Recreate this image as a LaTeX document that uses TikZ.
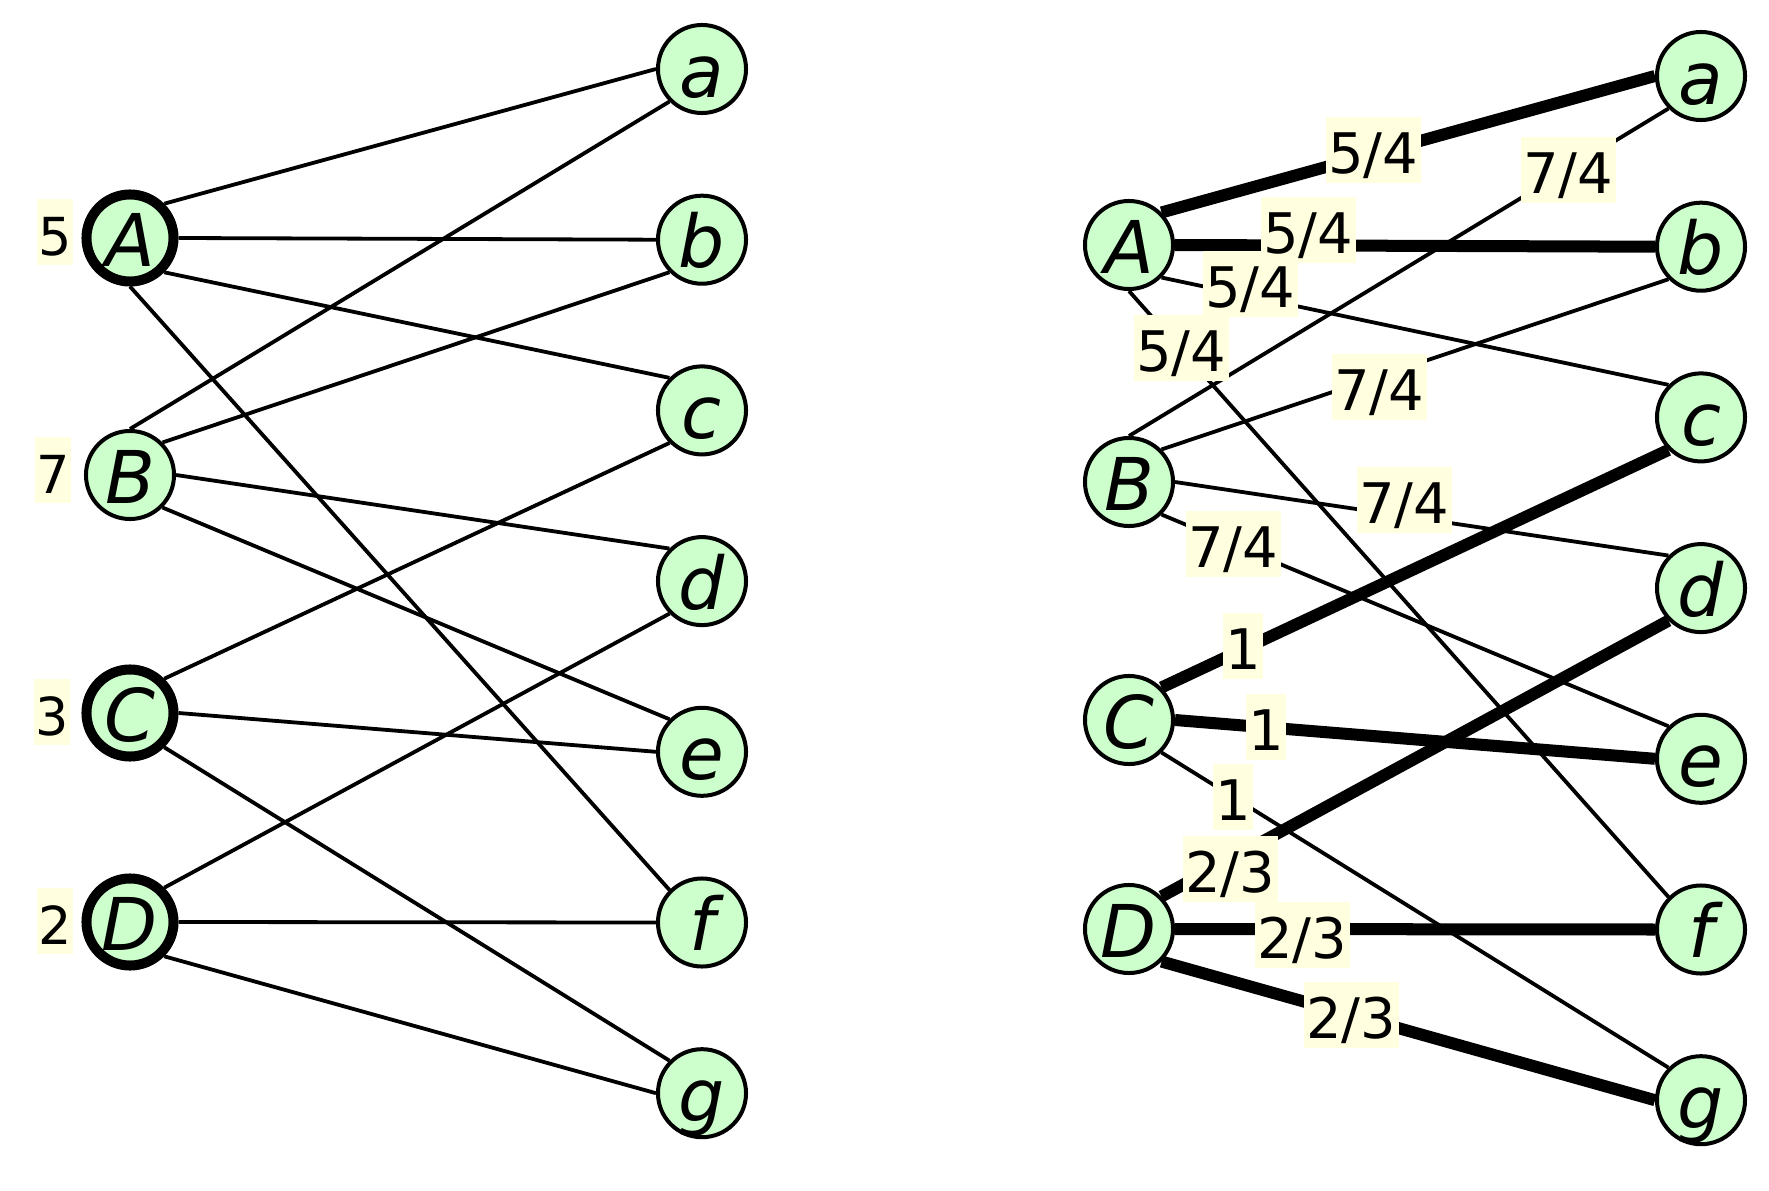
\documentclass[tikz,border=0pt]{standalone}
\usepackage{fontspec}
\setmainfont{DejaVu Sans}
\usetikzlibrary{positioning}
\definecolor{vertexgreen}{HTML}{CCFFCC}
\definecolor{labelyellow}{HTML}{FFFFE0}
\tikzset{
    vertex/.style={circle, draw=black, fill=vertexgreen, line width=0.04cm,
        minimum size=0.88cm, inner sep=0pt, text height=0.56cm, text depth=0pt,
        font=\fontsize{20.7}{24}\selectfont\itshape},
    heavyvertex/.style={vertex, line width=0.10cm, minimum size=0.87cm},
    thinedge/.style={draw=black, line width=0.038cm},
    heavyedge/.style={draw=black, line width=0.12cm},
    flowlabel/.style={fill=labelyellow, inner sep=0pt, inner xsep=0.025cm,
        text height=0.56cm, text depth=0.10cm, font=\fontsize{15.9}{19}\selectfont},
    degreelabel/.style={flowlabel, inner xsep=0.01cm, font=\fontsize{14.9}{18}\selectfont},
}

\begin{document}
\begin{tikzpicture}[x=0.01cm, y=-0.01cm]
	\useasboundingbox (0,0) rectangle (1769,1191);
	% left graph
	\node[heavyvertex] (A1) at (130,238) {A};
	\node[vertex] (B1) at (130,475) {B};
	\node[heavyvertex] (C1) at (130,713) {C};
	\node[heavyvertex] (D1) at (130,922) {D};
	\foreach \n [count=\i from 0] in {a,b,c,d,e,f,g}
		\node[vertex] (\n1) at (702,{69+170.7*\i}) {\n};
	%
	\draw[thinedge] (A1.north east) -- (a1.west);
	\draw[thinedge] (A1.east) -- (b1.west);
	\draw[thinedge] (A1.south east) -- (c1.north west);
	\draw[thinedge] (A1.south) -- (f1.north west);
	\draw[thinedge] (B1.north) -- (a1.south west);
	\draw[thinedge] (B1.north east) -- (b1.south west);
	\draw[thinedge] (B1.east) -- (d1.north west);
	\draw[thinedge] (B1.south east) -- (e1.north west);
	\draw[thinedge] (C1.north east) -- (c1.south west);
	\draw[thinedge] (C1.east) -- (e1.west);
	\draw[thinedge] (C1.south east) -- (g1.north west);
	\draw[thinedge] (D1.north east) -- (d1.south west);
	\draw[thinedge] (D1.east) -- (f1.west);
	\draw[thinedge] (D1.south east) -- (g1.west);
	%
	\node[degreelabel] (degA) at (55,232) {5};
	\node[degreelabel] (degB) at (53,470) {7};
	\node[degreelabel] (degC) at (52,712) {3};
	\node[degreelabel] (degD) at (55,921) {2};
	% right graph
	\node[vertex] (A2) at (1129,245) {A};
	\node[vertex] (B2) at (1129,482) {B};
	\node[vertex] (C2) at (1129,720) {C};
	\node[vertex] (D2) at (1129,929) {D};
	\foreach \n [count=\i from 0] in {a,b,c,d,e,f,g}
		\node[vertex] (\n2) at (1701,{76+170.7*\i}) {\n};
	%
	\draw[heavyedge] (A2.north east) -- (a2.west);
	\draw[heavyedge] (A2.east) -- (b2.west);
	\draw[thinedge] (A2.south east) -- (c2.north west);
	\draw[thinedge] (A2.south) -- (f2.north west);
	\draw[thinedge] (B2.north) -- (a2.south west);
	\draw[thinedge] (B2.north east) -- (b2.south west);
	\draw[thinedge] (B2.east) -- (d2.north west);
	\draw[thinedge] (B2.south east) -- (e2.north west);
	\draw[heavyedge] (C2.north east) -- (c2.south west);
	\draw[heavyedge] (C2.east) -- (e2.west);
	\draw[thinedge] (C2.south east) -- (g2.north west);
	\draw[heavyedge] (D2.north east) -- (d2.south west);
	\draw[heavyedge] (D2.east) -- (f2.west);
	\draw[heavyedge] (D2.south east) -- (g2.west);
	%
	\node[flowlabel] (Af) at (1181,348) {5/4};
	\node[flowlabel] (Ac) at (1250,284) {5/4};
	\node[flowlabel] (Ab) at (1308,230) {5/4};
	\node[flowlabel] (Aa) at (1373,150) {5/4};
	\node[flowlabel] (Ba) at (1568,170) {7/4};
	\node[flowlabel] (Bb) at (1379,387) {7/4};
	\node[flowlabel] (Bd) at (1404,500) {7/4};
	\node[flowlabel] (Be) at (1233,544) {7/4};
	\node[flowlabel] (Cc) at (1243,646) {1};
	\node[flowlabel] (Ce) at (1266,727) {1};
	\node[flowlabel] (Cg) at (1233,797) {1};
	\node[flowlabel] (Dd) at (1230,869) {2/3};
	\node[flowlabel] (Df) at (1302,935) {2/3};
	\node[flowlabel] (Dg) at (1351,1015) {2/3};
\end{tikzpicture}
\end{document}
